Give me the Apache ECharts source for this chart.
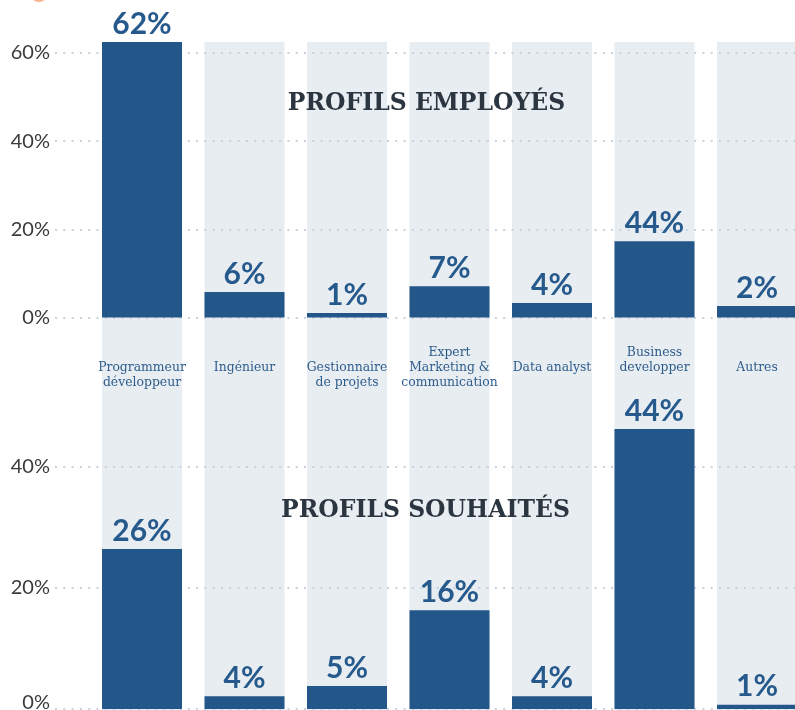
<!DOCTYPE html>
<html>
<head>
<meta charset="utf-8">
<script src="https://cdn.jsdelivr.net/npm/echarts@6/dist/echarts.min.js"></script>
<style>
html,body{margin:0;padding:0;background:#fff;}
#chart{width:795px;height:710px;}
</style>
</head>
<body>
<div id="chart"></div>
<script>
const categories = ['Programmeur\ndéveloppeur', 'Ingénieur', 'Gestionnaire\nde projets', 'Expert\nMarketing &\ncommunication', 'Data analyst', 'Business\ndevelopper', 'Autres'];
const employesBars = [62.5, 5.8, 1, 7.1, 3.3, 17.3, 2.6];
const employesLabels = ['62%', '6%', '1%', '7%', '4%', '44%', '2%'];
const souhaitesBars = [26.4, 2.1, 3.8, 16.3, 2.1, 46.2, 0.7];
const souhaitesLabels = ['26%', '4%', '5%', '16%', '4%', '44%', '1%'];
const employesTitle = 'PROFILS EMPLOYÉS';
const souhaitesTitle = 'PROFILS SOUHAITÉS';
const backgroundColumns = [1, 1, 1, 1, 1, 1, 1];

const BAR = '#235689';
const GREY = '#e8edf2';
const LBL = '#275a8c';
const DOT = '#c9d1e0';
// layout only: whether a category label starts one line lower
const labelDrop = [1, 1, 1, 0, 1, 0, 1];

const chart = echarts.init(document.getElementById('chart'), null, {renderer: 'canvas'});

const barLeft = 90.75, barWidthPx = 717.5;
const topG = {top: 53, bottom: 392.5};
const botG = {top: 466.6, bottom: 1};

function gridAxisY(gi, max, shiftZero) {
  return {
    type: 'value', gridIndex: gi, min: 0, max: max, interval: 20, z: 3,
    axisLine: {show: false}, axisTick: {show: false},
    splitLine: {show: true, lineStyle: {color: DOT, width: 2, type: [2, 6.3]}},
    axisLabel: {
      margin: 5, color: '#3b3b3b', fontSize: 20, fontFamily: 'Lato',
      formatter: v => (shiftZero && v === 0) ? '{lo|0%}' : v + '%',
      rich: {lo: {padding: [0, 0, 12, 0], fontSize: 20, fontFamily: 'Lato', color: '#3b3b3b'}}
    }
  };
}
function hiddenY(gi, max) {
  return {type: 'value', gridIndex: gi, min: 0, max: max, show: false, splitLine: {show: false}};
}
function barSeries(xi, yi, data, labels) {
  return {
    type: 'bar', xAxisIndex: xi, yAxisIndex: yi, data: data, barWidth: 80, z: 4, clip: false,
    itemStyle: {color: BAR},
    label: {
      show: true, position: 'top', distance: 3,
      formatter: p => labels[p.dataIndex],
      color: LBL, fontFamily: 'Lato', fontWeight: 'bold', fontSize: 30
    }
  };
}

const option = {
  animation: false,
  backgroundColor: '#ffffff',
  grid: [
    {left: barLeft, width: barWidthPx, top: 42, bottom: 0, outerBoundsMode: 'none'},
    {left: 55, right: 0, top: topG.top, bottom: topG.bottom, outerBoundsMode: 'none'},
    {left: barLeft, width: barWidthPx, top: topG.top, bottom: topG.bottom, outerBoundsMode: 'none'},
    {left: 55, right: 0, top: botG.top, bottom: botG.bottom, outerBoundsMode: 'none'},
    {left: barLeft, width: barWidthPx, top: botG.top, bottom: botG.bottom, outerBoundsMode: 'none'}
  ],
  xAxis: [
    {type: 'category', gridIndex: 0, data: categories, show: false},
    {type: 'value', gridIndex: 1, min: 0, max: 1, show: false},
    {
      type: 'category', gridIndex: 2, z: 5, data: categories,
      axisLine: {show: false}, axisTick: {show: false},
      axisLabel: {
        interval: 0, margin: 28, lineHeight: 15,
        formatter: (v, i) => (labelDrop[i] ? '\n' : '') + v,
        fontFamily: 'DejaVu Serif', fontSize: 12.4, color: '#2e5d8c'
      }
    },
    {type: 'value', gridIndex: 3, min: 0, max: 1, show: false},
    {type: 'category', gridIndex: 4, data: categories, show: false}
  ],
  yAxis: [
    hiddenY(0, 1),
    gridAxisY(1, 60, false),
    hiddenY(2, 60),
    gridAxisY(3, 40, true),
    hiddenY(4, 40)
  ],
  series: [
    {type: 'bar', xAxisIndex: 0, yAxisIndex: 0, data: backgroundColumns, barWidth: 80, z: 2,
     itemStyle: {color: GREY}, silent: true},
    barSeries(2, 2, employesBars, employesLabels),
    barSeries(4, 4, souhaitesBars, souhaitesLabels)
  ],
  graphic: [
    {type: 'circle', shape: {cx: 39, cy: -7, r: 9}, style: {fill: '#f6b288'}, z: 10},
    {type: 'text', x: 426.5, y: 104, z: 10,
     style: {text: employesTitle, align: 'center', verticalAlign: 'middle', fill: '#2b3640',
             font: 'bold 23.5px "DejaVu Serif"'}},
    {type: 'text', x: 425.5, y: 511, z: 10,
     style: {text: souhaitesTitle, align: 'center', verticalAlign: 'middle', fill: '#2b3640',
             font: 'bold 23.5px "DejaVu Serif"'}}
  ]
};
chart.setOption(option);
</script>
</body>
</html>
